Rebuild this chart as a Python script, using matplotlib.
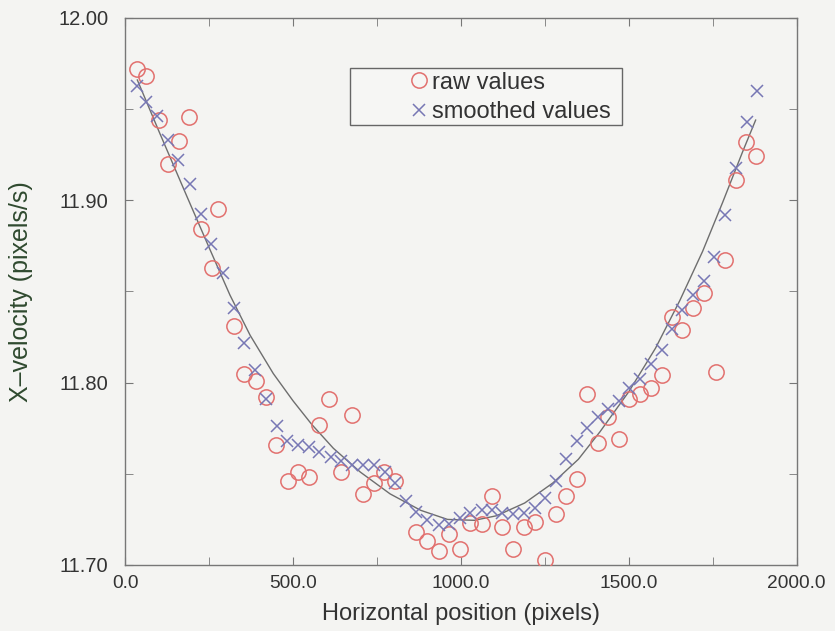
import numpy as np
import matplotlib.pyplot as plt
from matplotlib.patches import Rectangle
from matplotlib.ticker import MultipleLocator, FormatStrFormatter

# raw measurements (circles)
raw_x = [35, 63, 100, 127, 161, 191, 226, 259, 275, 323, 353, 389, 419, 450,
         485, 515, 548, 578, 607, 642, 675, 707, 740, 770, 804, 867, 900, 934,
         965, 997, 1027, 1062, 1093, 1123, 1155, 1187, 1222, 1250, 1282, 1313,
         1345, 1375, 1407, 1438, 1470, 1502, 1533, 1565, 1598, 1628, 1660,
         1691, 1725, 1761, 1786, 1820, 1850, 1878]
raw_y = [11.972, 11.968, 11.944, 11.920, 11.9325, 11.9455, 11.884, 11.863,
         11.895, 11.831, 11.805, 11.801, 11.792, 11.766, 11.746, 11.751,
         11.748, 11.777, 11.791, 11.751, 11.782, 11.739, 11.745, 11.751,
         11.746, 11.718, 11.713, 11.7075, 11.717, 11.709, 11.723, 11.7225,
         11.738, 11.721, 11.709, 11.721, 11.7235, 11.703, 11.728, 11.738,
         11.747, 11.794, 11.767, 11.781, 11.769, 11.791, 11.794, 11.797,
         11.804, 11.836, 11.829, 11.841, 11.849, 11.806, 11.867, 11.911,
         11.932, 11.9245]

# smoothed values (crosses)
smooth_x = [35, 63, 95, 127, 158, 193, 226, 256, 290, 323, 353, 386, 419,
            451, 483, 514, 546, 577, 612, 644, 676, 709, 741, 774, 804, 835,
            867, 900, 934, 965, 997, 1027, 1062, 1093, 1123, 1155, 1187, 1222,
            1250, 1282, 1313, 1345, 1377, 1407, 1438, 1470, 1502, 1533, 1565,
            1598, 1628, 1660, 1691, 1723, 1755, 1786, 1820, 1851, 1881]
smooth_y = [11.9625, 11.954, 11.946, 11.933, 11.922, 11.909, 11.8926, 11.876,
            11.860, 11.8407, 11.822, 11.807, 11.791, 11.776, 11.768, 11.766,
            11.7646, 11.762, 11.759, 11.757, 11.755, 11.755, 11.7546, 11.751,
            11.745, 11.735, 11.729, 11.7245, 11.722, 11.7227, 11.7256, 11.7287,
            11.730, 11.7304, 11.7287, 11.728, 11.7287, 11.731, 11.737, 11.746,
            11.758, 11.768, 11.775, 11.781, 11.7856, 11.790, 11.797, 11.802,
            11.810, 11.818, 11.8297, 11.840, 11.848, 11.856, 11.869, 11.892,
            11.918, 11.943, 11.960]

# fitted curve
fit_x = [36, 100, 184, 250, 312, 372, 441, 500, 556, 620, 700, 789, 880, 960,
         1040, 1106, 1190, 1274, 1350, 1414, 1500, 1580, 1652, 1720, 1780,
         1840, 1878]
fit_y = [11.966, 11.938, 11.902, 11.874, 11.848, 11.826, 11.805, 11.790,
         11.777, 11.764, 11.751, 11.739, 11.730, 11.725, 11.7245, 11.727,
         11.734, 11.745, 11.758, 11.773, 11.795, 11.819, 11.845, 11.872,
         11.899, 11.927, 11.944]

plt.rcParams['font.family'] = ['Liberation Sans', 'DejaVu Sans']

fig = plt.figure(figsize=(8.35, 6.31), dpi=100, facecolor='#f4f4f2')
ax = fig.add_axes([0.150, 0.1046, 0.804, 0.8669])
ax.set_facecolor('#f4f4f2')

ax.plot(fit_x, fit_y, color='#6e6e6e', lw=1.0, zorder=2)
ax.plot(raw_x, raw_y, linestyle='None', marker='o', ms=11, mfc='none',
        mec='#e2706e', mew=1.1, label='raw values', zorder=3)
ax.plot(smooth_x, smooth_y, linestyle='None', marker='x', ms=8.5,
        color='#7777b4', mew=1.1, label='smoothed values', zorder=3)

ax.set_xlim(0, 2000)
ax.set_ylim(11.70, 12.00)
ax.xaxis.set_major_locator(MultipleLocator(500))
ax.xaxis.set_minor_locator(MultipleLocator(250))
ax.yaxis.set_major_locator(MultipleLocator(0.1))
ax.yaxis.set_minor_locator(MultipleLocator(0.05))
ax.xaxis.set_major_formatter(FormatStrFormatter('%.1f'))
ax.yaxis.set_major_formatter(FormatStrFormatter('%.2f'))

ax.tick_params(which='both', direction='in', top=True, right=True,
               colors='#777777', labelcolor='#333333')
ax.tick_params(which='both', length=6)
ax.tick_params(axis='x', which='major', labelsize=13.8, pad=7)
ax.tick_params(axis='y', which='major', labelsize=14.5, pad=12)
for s in ax.spines.values():
    s.set_color('#777777')
    s.set_linewidth(1.0)

ax.set_xlabel('Horizontal position (pixels)', fontsize=17, color='#333333',
              labelpad=8)
ax.set_ylabel('X\u2013velocity (pixels/s)', fontsize=18, color='#2f4a2f',
              labelpad=18)

# legend: frame drawn separately, entries sit right of centre
ax.add_patch(Rectangle((0.335, 0.804), 0.4046, 0.1046, transform=ax.transAxes,
                       facecolor='#f6f6f4', edgecolor='#666666', lw=1.0,
                       zorder=4))
leg = ax.legend(loc='upper left', bbox_to_anchor=(0.423, 0.902),
                fontsize=17, handlelength=0.8, handletextpad=0.15,
                borderpad=0, labelspacing=0.32, frameon=False,
                borderaxespad=0)
leg.set_zorder(5)
for t in leg.get_texts():
    t.set_color('#333333')

plt.savefig('out.png', dpi=100, facecolor=fig.get_facecolor())
